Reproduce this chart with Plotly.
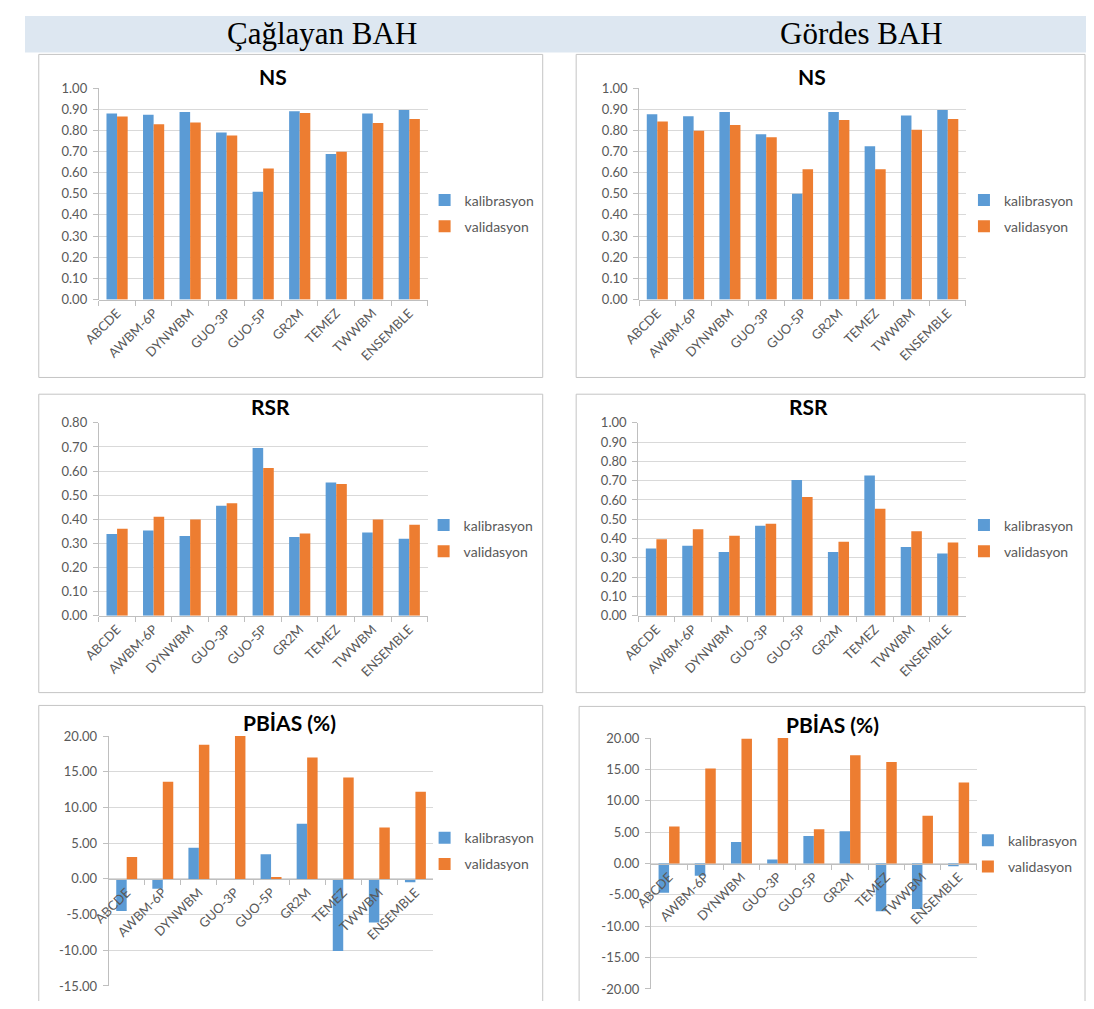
import plotly.graph_objects as go

# ---------------- data ----------------
models = ["ABCDE", "AWBM-6P", "DYNWBM", "GUO-3P", "GUO-5P", "GR2M", "TEMEZ", "TWWBM", "ENSEMBLE"]

ns_cag_kal = [0.880, 0.873, 0.887, 0.790, 0.509, 0.890, 0.688, 0.879, 0.896]
ns_cag_val = [0.865, 0.829, 0.837, 0.776, 0.620, 0.882, 0.699, 0.834, 0.854]
ns_gor_kal = [0.876, 0.866, 0.887, 0.781, 0.500, 0.887, 0.725, 0.870, 0.896]
ns_gor_val = [0.842, 0.798, 0.825, 0.767, 0.616, 0.849, 0.616, 0.803, 0.854]

rsr_cag_kal = [0.339, 0.353, 0.331, 0.456, 0.696, 0.326, 0.553, 0.345, 0.319]
rsr_cag_val = [0.361, 0.410, 0.399, 0.467, 0.613, 0.341, 0.546, 0.399, 0.377]
rsr_gor_kal = [0.348, 0.363, 0.330, 0.467, 0.704, 0.330, 0.727, 0.356, 0.322]
rsr_gor_val = [0.397, 0.448, 0.414, 0.477, 0.615, 0.383, 0.554, 0.438, 0.380]

pbias_cag_kal = [-4.50, -1.38, 4.36, 0.00, 3.44, 7.71, -10.10, -6.10, -0.46]
pbias_cag_val = [3.07, 13.60, 18.80, 20.00, 0.28, 17.00, 14.20, 7.20, 12.20]
pbias_gor_kal = [-4.68, -1.95, 3.42, 0.63, 4.37, 5.16, -7.63, -7.26, -0.42]
pbias_gor_val = [5.89, 15.16, 19.90, 20.00, 5.47, 17.26, 16.20, 7.63, 12.90]

ticks_ns = [0.0, 0.1, 0.2, 0.3, 0.4, 0.5, 0.6, 0.7, 0.8, 0.9, 1.0]
ticks_rsr_cag = [0.0, 0.1, 0.2, 0.3, 0.4, 0.5, 0.6, 0.7, 0.8]
ticks_rsr_gor = [0.0, 0.1, 0.2, 0.3, 0.4, 0.5, 0.6, 0.7, 0.8, 0.9, 1.0]
ticks_pbias_cag = [-15, -10, -5, 0, 5, 10, 15, 20]
ticks_pbias_gor = [-20, -15, -10, -5, 0, 5, 10, 15, 20]

series_names = ["kalibrasyon", "validasyon"]
column_titles = ["Çağlayan BAH", "Gördes BAH"]
panel_titles = ["NS", "NS", "RSR", "RSR", "PBİAS (%)", "PBİAS (%)"]

# ---------------- layout helpers ----------------
# The page keeps the browser's 8px body margin, so the figure is sized to
# fill the 1094x1009 window exactly and positions are given in window pixels.
VW, VH = 1094, 1009
OX, OY = 8, 8
FW, FH = VW - 2 * OX, VH - 2 * OY

def px(x):
    return (x - OX) / FW

def py(y):
    return 1 - (y - OY) / FH

BLUE = "#5B9BD5"
ORANGE = "#ED7D31"
GRID = "#d9d9d9"
AXIS = "#bfbfbf"
TXT = "#595959"
FONT = "Lato"

panels = [
    dict(kal=ns_cag_kal, val=ns_cag_val, ticks=ticks_ns, xd=(83, 417), yd=(296, 81),
         box=(22, 47, 534, 375), title=(260, 69), leg=(454, 208.5)),
    dict(kal=ns_gor_kal, val=ns_gor_val, ticks=ticks_ns, xd=(632, 964), yd=(296, 81),
         box=(568, 47, 1085, 375), title=(808, 69), leg=(1002, 208.5)),
    dict(kal=rsr_cag_kal, val=rsr_cag_val, ticks=ticks_rsr_cag, xd=(83, 417), yd=(617, 421),
         box=(22, 392, 534, 695), title=(257, 404), leg=(453, 538.5)),
    dict(kal=rsr_gor_kal, val=rsr_gor_val, ticks=ticks_rsr_gor, xd=(631, 964), yd=(617, 421),
         box=(568, 392, 1085, 695), title=(804, 404), leg=(1002, 538.5)),
    dict(kal=pbias_cag_kal, val=pbias_cag_val, ticks=ticks_pbias_cag, xd=(93, 423), yd=(993, 739),
         box=(22, 708, 534, 1012), title=(277, 725), leg=(454, 856)),
    dict(kal=pbias_gor_kal, val=pbias_gor_val, ticks=ticks_pbias_gor, xd=(644, 975), yd=(996, 741),
         box=(571, 709, 1085, 1012), title=(828, 727), leg=(1006, 858.5)),
]

fig = go.Figure()
shapes = []
annotations = []
layout_updates = {}

# banner
shapes.append(dict(type="rect", xref="paper", yref="paper", x0=px(8), x1=px(1094), y0=py(45), y1=py(8),
                   fillcolor="#dde7f1", line=dict(width=0), layer="below"))
for t, cx in zip(column_titles, [310, 858]):
    annotations.append(dict(text=t, xref="paper", yref="paper", x=px(cx), y=py(26), xanchor="center",
                            yanchor="middle", showarrow=False,
                            font=dict(family="Liberation Serif", size=31, color="black")))

for i, p in enumerate(panels, start=1):
    xa = "x" if i == 1 else f"x{i}"
    ya = "y" if i == 1 else f"y{i}"
    lg = "legend" if i == 1 else f"legend{i}"
    for name, vals, col in zip(series_names, [p["kal"], p["val"]], [BLUE, ORANGE]):
        fig.add_trace(go.Bar(x=models, y=vals, name=name, marker=dict(color=col, line=dict(width=0)),
                             xaxis=xa, yaxis=ya, legend=lg, legendgroup=f"{i}{name}"))
    ticks = p["ticks"]
    ymin, ymax = min(ticks), max(ticks)
    span = ymax - ymin
    yd0, yd1 = py(p["yd"][0]), py(p["yd"][1])
    zero_pos = yd0 + (0 - ymin) / span * (yd1 - yd0)
    xkey = "xaxis" if i == 1 else f"xaxis{i}"
    ykey = "yaxis" if i == 1 else f"yaxis{i}"
    layout_updates[xkey] = dict(
        domain=[px(p["xd"][0]), px(p["xd"][1])], anchor="free", position=zero_pos,
        type="category", showline=True, linecolor=AXIS, linewidth=1,
        ticks="outside", tickson="boundaries", ticklen=5, tickcolor=AXIS,
        tickangle=-45, tickfont=dict(family=FONT, size=13, color=TXT), showgrid=False,
        fixedrange=True,
    )
    layout_updates[ykey] = dict(
        domain=[yd0, yd1], anchor=xa, range=[ymin - span * 0.0005, ymax + span * 0.0005],
        tickvals=ticks, ticktext=[f"{v:.2f}" for v in ticks],
        showgrid=True, gridcolor=GRID, gridwidth=1, zeroline=False,
        showline=True, linecolor=AXIS, linewidth=1, ticks="outside", ticklen=5, tickcolor=AXIS,
        tickfont=dict(family=FONT, size=13, color=TXT), ticklabelstandoff=3, fixedrange=True,
    )
    layout_updates[lg] = dict(
        x=px(p["leg"][0] - 40), y=py(p["leg"][1]), xanchor="left", yanchor="middle",
        font=dict(family=FONT, size=14, color=TXT), bgcolor="rgba(0,0,0,0)",
        traceorder="grouped", tracegroupgap=5, itemwidth=30,
    )
    b = p["box"]
    shapes.append(dict(type="rect", xref="paper", yref="paper", x0=px(b[0]), x1=px(b[2]),
                       y0=py(b[3]), y1=py(b[1]), fillcolor="rgba(0,0,0,0)",
                       line=dict(color="#c4c4c4", width=1), layer="below"))
    annotations.append(dict(text=f"<b>{panel_titles[i-1]}</b>", xref="paper", yref="paper",
                            x=px(p["title"][0]), y=py(p["title"][1]), xanchor="center", yanchor="middle",
                            showarrow=False, font=dict(family=FONT, size=21, color="black")))

fig.update_layout(
    width=FW, height=FH, margin=dict(l=0, r=0, t=0, b=0), autosize=False,
    paper_bgcolor="white", plot_bgcolor="rgba(0,0,0,0)",
    barmode="group", bargap=0.42, bargroupgap=0,
    shapes=shapes, annotations=annotations, showlegend=True,
    **layout_updates,
)

fig.write_html(
    "out.html",
    config={"displayModeBar": False, "responsive": False},
    post_script="document.documentElement.style.overflow='hidden';",
)
